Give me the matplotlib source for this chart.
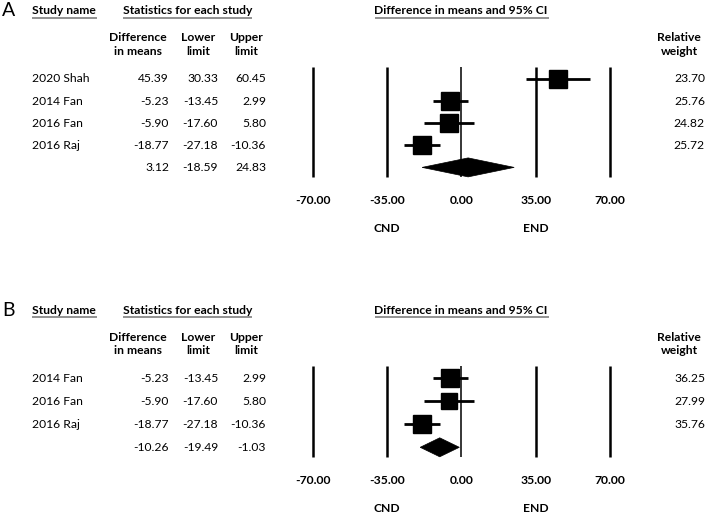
import matplotlib
matplotlib.use('Agg')
import matplotlib.pyplot as plt
from matplotlib.patches import Polygon

plt.rcParams['font.family'] = ['Lato', 'DejaVu Sans']

# ---- data ----
studies_a = ['2020 Shah', '2014 Fan', '2016 Fan', '2016 Raj']
diff_a = [45.39, -5.23, -5.90, -18.77]
lower_a = [30.33, -13.45, -17.60, -27.18]
upper_a = [60.45, 2.99, 5.80, -10.36]
weight_a = [23.70, 25.76, 24.82, 25.72]
summary_a = [3.12, -18.59, 24.83]   # estimate, lower, upper

studies_b = ['2014 Fan', '2016 Fan', '2016 Raj']
diff_b = [-5.23, -5.90, -18.77]
lower_b = [-13.45, -17.60, -27.18]
upper_b = [2.99, 5.80, -10.36]
weight_b = [36.25, 27.99, 35.76]
summary_b = [-10.26, -19.49, -1.03]

ticks = [-70, -35, 0, 35, 70]
tick_labels = ['-70.00', '-35.00', '0.00', '35.00', '70.00']
favours = ['CND', 'END']
favour_pos = [-35, 35]

W, H = 708, 514
FS = 8.7
fig = plt.figure(figsize=(W / 100, H / 100), dpi=100)

# pixel mapping of the effect axis (same for both panels)
X0_PX = 461.5       # pixel of 0.00
PX_PER_UNIT = 2.121


def fx(px):
    return px / W


def panel(top, height, y0, dy, label, studies, diff, lower, upper, weight, summary):
    ax = fig.add_axes([0, 1 - (top + height) / H, 1, height / H])
    ax.set_xlim((0 - X0_PX) / PX_PER_UNIT, (W - X0_PX) / PX_PER_UNIT)
    ax.set_ylim((top + height - y0) / dy, (top - y0) / dy)
    ax.axis('off')
    tr = ax.get_yaxis_transform()   # x in axes fraction, y in rows

    def r(px):   # pixel offset -> rows
        return px / dy

    n = len(studies)
    last = n  # summary row index

    # headers
    hy = r(-68)
    ax.text(fx(9), hy, label, transform=tr, ha='center', va='center', fontsize=14)
    ax.text(fx(32), hy, 'Study name', transform=tr, ha='left', va='center',
            fontsize=FS, fontweight='bold')
    ax.text(fx(188), hy, 'Statistics for each study', transform=tr, ha='center',
            va='center', fontsize=FS, fontweight='bold')
    ax.text(fx(461), hy, 'Difference in means and 95% CI', transform=tr, ha='center',
            va='center', fontsize=FS, fontweight='bold')
    uy = r(-61.5)
    for a, b in [(32, 97), (123, 252), (375, 549)]:
        ax.plot([fx(a), fx(b)], [uy, uy], transform=tr, color='#7f7f7f', lw=1.2,
                solid_capstyle='butt', clip_on=False)

    cy = r(-34.5)
    for x, txt in [(138, 'Difference\nin means'), (198, 'Lower\nlimit'),
                   (246, 'Upper\nlimit'), (679, 'Relative\nweight')]:
        ax.text(fx(x), cy, txt, transform=tr, ha='center', va='center',
                fontsize=FS, fontweight='bold', linespacing=1.25)

    # study rows
    for i in range(n):
        ax.text(fx(32), i, studies[i], transform=tr, ha='left', va='center', fontsize=FS)
        ax.text(fx(169), i, f'{diff[i]:.2f}', transform=tr, ha='right', va='center', fontsize=FS)
        ax.text(fx(218), i, f'{lower[i]:.2f}', transform=tr, ha='right', va='center', fontsize=FS)
        ax.text(fx(266), i, f'{upper[i]:.2f}', transform=tr, ha='right', va='center', fontsize=FS)
        ax.text(fx(705), i, f'{weight[i]:.2f}', transform=tr, ha='right', va='center', fontsize=FS)
    ax.text(fx(169), last, f'{summary[0]:.2f}', transform=tr, ha='right', va='center', fontsize=FS)
    ax.text(fx(218), last, f'{summary[1]:.2f}', transform=tr, ha='right', va='center', fontsize=FS)
    ax.text(fx(266), last, f'{summary[2]:.2f}', transform=tr, ha='right', va='center', fontsize=FS)

    # reference lines
    for t in ticks:
        ax.vlines(t, r(-12), last + r(10), color='black',
                  lw=1.1 if t == 0 else 1.8, zorder=1)
        ax.text(t, last + r(33), tick_labels[ticks.index(t)], ha='center', va='center',
                fontsize=FS, fontweight='bold')
    for lab, p in zip(favours, favour_pos):
        ax.text(p, last + r(61), lab, ha='center', va='center', fontsize=FS,
                fontweight='bold')

    # CIs and boxes
    wmax = max(weight)
    for i in range(n):
        ax.plot([lower[i], upper[i]], [i, i], color='black', lw=2.0,
                solid_capstyle='butt', zorder=2)
        side = 18.0 * (weight[i] / wmax) ** 0.25
        ax.plot(diff[i], i, marker='s', color='black', markersize=side * 0.72,
                linestyle='none', zorder=3)

    hh = r(9.5)
    est, lo, hi = summary
    ax.add_patch(Polygon([(lo, last), (est, last - hh), (hi, last), (est, last + hh)],
                         closed=True, facecolor='black', edgecolor='black', lw=0.5,
                         zorder=3))
    return ax


panel(0, 257, 79.0, 22.1, 'A', studies_a, diff_a, lower_a, upper_a, weight_a, summary_a)
panel(257, 257, 378.3, 23.0, 'B', studies_b, diff_b, lower_b, upper_b, weight_b, summary_b)

fig.savefig('out.png', dpi=100)
